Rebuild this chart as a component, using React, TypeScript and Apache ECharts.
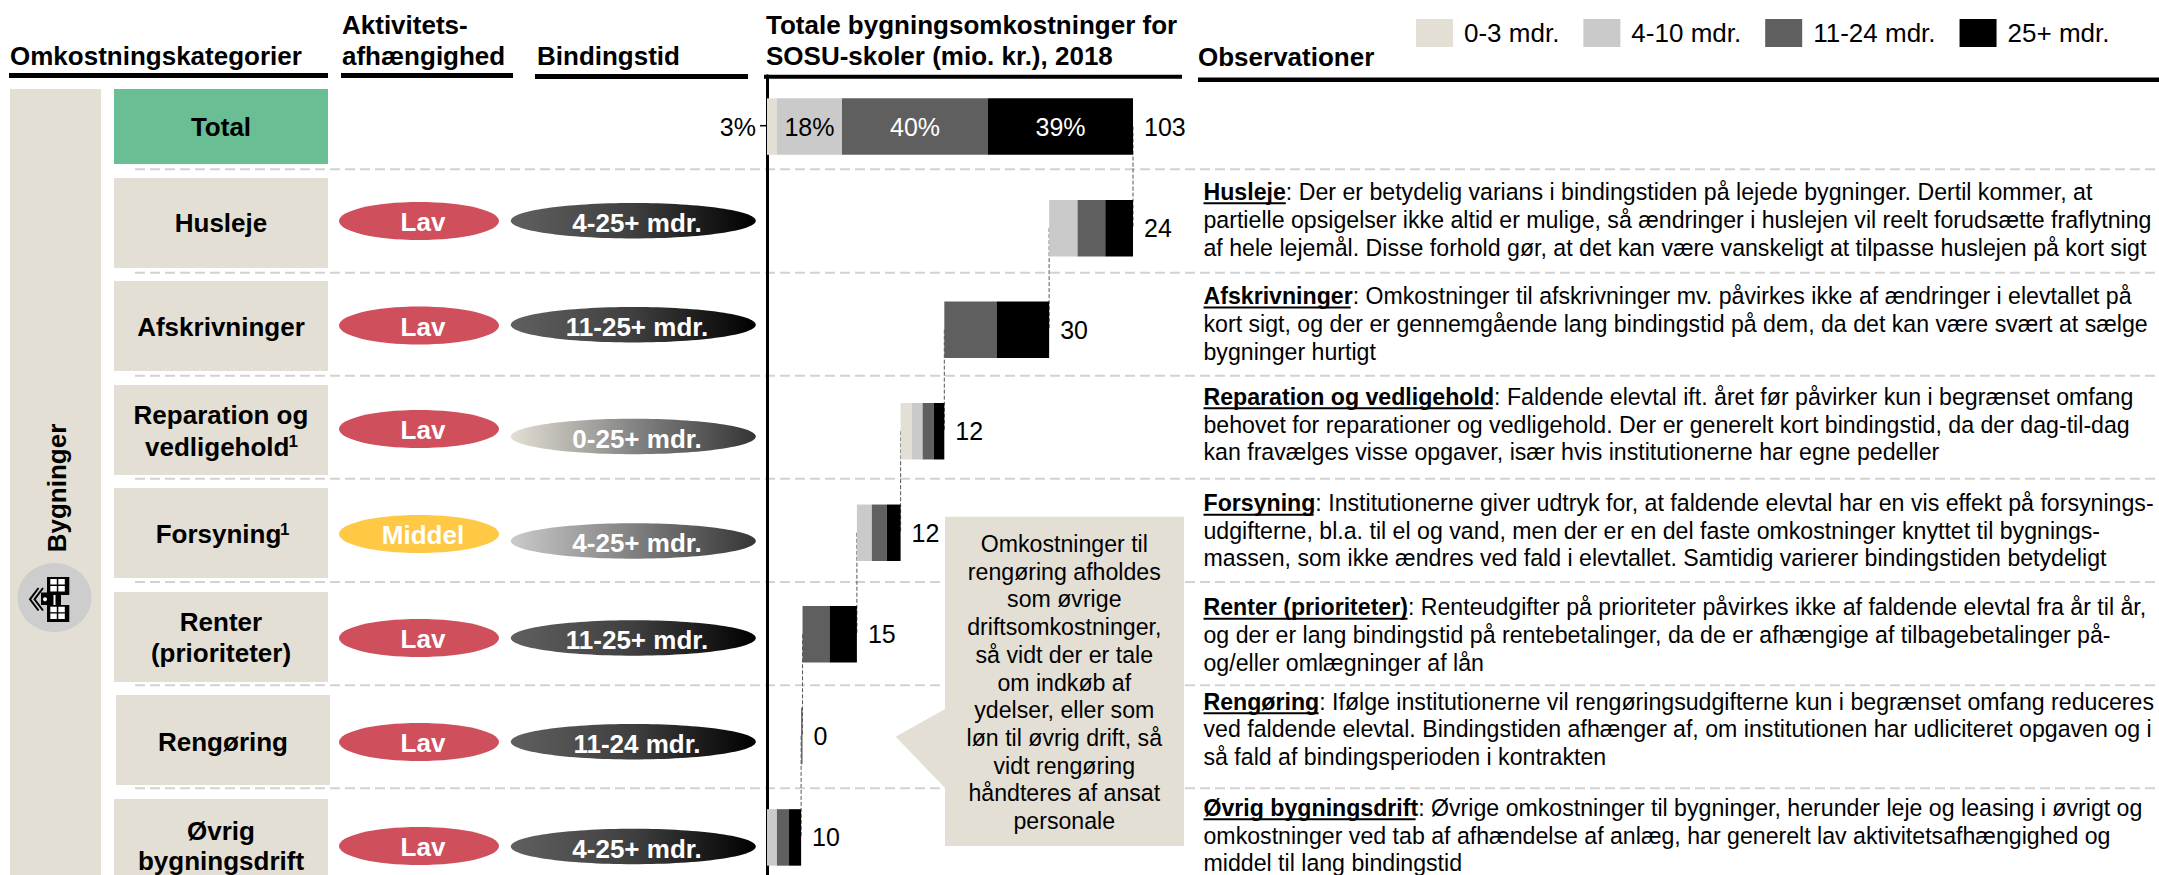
import React, { useEffect, useRef } from "react";
import * as echarts from "echarts";

const FONT = '"Liberation Sans", Arial, sans-serif';
const BEIGE = "#E3DFD4";
const LIGHT = "#CACACA";
const DARK = "#5F5F5F";
const BLACK = "#000000";
const GREEN = "#69BE94";
const RED = "#CF505C";
const YELLOW = "#FFC845";
const DASH = "#D2D2D2";

const rows = ["Total", "Husleje", "Afskrivninger", "Reparation og vedligehold", "Forsyning", "Renter (prioriteter)", "Rengøring", "Øvrig bygningsdrift"];
const seriesNames = ["0-3 mdr.", "4-10 mdr.", "11-24 mdr.", "25+ mdr."];
const v0to3 = [2.8, 0, 0, 3.1, 0, 0, 0, 0];
const v4to10 = [18.3, 8.0, 0, 3.1, 4.2, 0, 0, 2.8];
const v11to24 = [41.1, 7.8, 14.7, 3.1, 4.2, 7.6, 0.4, 3.4];
const v25plus = [40.8, 7.8, 14.8, 3.0, 3.9, 7.7, 0, 3.4];
const rowTotals = ["103", "24", "30", "12", "12", "15", "0", "10"];
const totalPct = ["3%", "18%", "40%", "39%"];

const categoryLines = [["Total"], ["Husleje"], ["Afskrivninger"], ["Reparation og", "vedligehold"], ["Forsyning"], ["Renter", "(prioriteter)"], ["Rengøring"], ["Øvrig", "bygningsdrift"]];
const categoryLineY = [[127], [223], [327], [415, 447], [534], [622, 653], [742], [831, 861]];
const categoryBoxes = [[114, 89, 214, 75], [114, 178, 214, 90], [114, 281, 214, 90], [114, 385, 214, 90], [114, 488, 214, 90], [114, 592, 214, 90], [116, 695, 214, 90], [114, 799, 214, 90]];
const footnoteMarks = [[288.5, 441], [280, 529]];
const activity = ["Lav", "Lav", "Lav", "Middel", "Lav", "Lav", "Lav"];
const activityY = [221, 325.5, 429, 534, 638, 742, 846];
const binding = ["4-25+ mdr.", "11-25+ mdr.", "0-25+ mdr.", "4-25+ mdr.", "11-25+ mdr.", "11-24 mdr.", "4-25+ mdr."];
const bindingY = [220.7, 324.7, 436.5, 541, 638, 741.7, 846.5];
const bindingStops = [
  ["#606060", "#3F3F3F", "#000000"],
  ["#606060", "#3F3F3F", "#000000"],
  ["#E3DFD4", "#848484", "#353535"],
  ["#CACACA", "#808080", "#353535"],
  ["#606060", "#3F3F3F", "#000000"],
  ["#606060", "#3F3F3F", "#000000"],
  ["#606060", "#3F3F3F", "#000000"],
];
const separators = [169.3, 272.7, 375.7, 478.7, 582, 685.3, 788.3];

const obsHeads = ["Husleje", "Afskrivninger", "Reparation og vedligehold", "Forsyning", "Renter (prioriteter)", "Rengøring", "Øvrig bygningsdrift"];
const obsFirst = [
  ": Der er betydelig varians i bindingstiden på lejede bygninger. Dertil kommer, at",
  ": Omkostninger til afskrivninger mv. påvirkes ikke af ændringer i elevtallet på",
  ": Faldende elevtal ift. året før påvirker kun i begrænset omfang",
  ": Institutionerne giver udtryk for, at faldende elevtal har en vis effekt på forsynings-",
  ": Renteudgifter på prioriteter påvirkes ikke af faldende elevtal fra år til år,",
  ": Ifølge institutionerne vil rengøringsudgifterne kun i begrænset omfang reduceres",
  ": Øvrige omkostninger til bygninger, herunder leje og leasing i øvrigt og",
];
const obsLine2 = [
  "partielle opsigelser ikke altid er mulige, så ændringer i huslejen vil reelt forudsætte fraflytning",
  "kort sigt, og der er gennemgående lang bindingstid på dem, da det kan være svært at sælge",
  "behovet for reparationer og vedligehold. Der er generelt kort bindingstid, da der dag-til-dag",
  "udgifterne, bl.a. til el og vand, men der er en del faste omkostninger knyttet til bygnings-",
  "og der er lang bindingstid på rentebetalinger, da de er afhængige af tilbagebetalinger på-",
  "ved faldende elevtal. Bindingstiden afhænger af, om institutionen har udliciteret opgaven og i",
  "omkostninger ved tab af afhændelse af anlæg, har generelt lav aktivitetsafhængighed og",
];
const obsLine3 = [
  "af hele lejemål. Disse forhold gør, at det kan være vanskeligt at tilpasse huslejen på kort sigt",
  "bygninger hurtigt",
  "kan fravælges visse opgaver, især hvis institutionerne har egne pedeller",
  "massen, som ikke ændres ved fald i elevtallet. Samtidig varierer bindingstiden betydeligt",
  "og/eller omlægninger af lån",
  "så fald af bindingsperioden i kontrakten",
  "middel til lang bindingstid",
];
const obsY = [[191.7, 220, 248], [296, 324, 351.7], [396.7, 425, 452.3], [503.3, 530.7, 557.7], [607.3, 635, 663.3], [701.7, 729.3, 757.3], [807.7, 836, 862.7]];
const obsUnderlineEnd = [1285.8, 1350.7, 1492.8, 1313.6, 1407.5, 1318.6, 1415.6];

const calloutLines = ["Omkostninger til", "rengøring afholdes", "som øvrige", "driftsomkostninger,", "så vidt der er tale", "om indkøb af", "ydelser, eller som", "løn til øvrig drift, så", "vidt rengøring", "håndteres af ansat", "personale"];

function txt(text: string, x: number, y: number, font: string, fill = "#000", align = "center", extra: any = {}) {
  return { type: "text", silent: true, ...extra, style: { text, x, y, font, fill, textAlign: align, textVerticalAlign: "middle" } };
}
function rect(x: number, y: number, width: number, height: number, fill: string) {
  return { type: "rect", silent: true, shape: { x, y, width, height }, style: { fill } };
}

function buildOption() {
  const rowSums = rows.map((_, i) => v0to3[i] + v4to10[i] + v11to24[i] + v25plus[i]);
  // offset of each floating bar: everything below it in the waterfall
  const base = rows.map((_, i) => (i === 0 ? 0 : rowSums.slice(i + 1).reduce((a, b) => a + b, 0)));
  const rightEdge = rows.map((_, i) => base[i] + rowSums[i]);

  const B26 = `bold 26px ${FONT}`;
  const R23 = `23.15px ${FONT}`;
  const gfx: any[] = [];

  separators.forEach((y) => gfx.push({ type: "line", silent: true, shape: { x1: 135, y1: y, x2: 2159, y2: y }, style: { stroke: DASH, lineWidth: 2, lineDash: [10, 5] } }));

  gfx.push(rect(10, 89, 91, 800, BEIGE));
  categoryBoxes.forEach((b, i) => gfx.push(rect(b[0], b[1], b[2], b[3], i === 0 ? GREEN : BEIGE)));
  categoryLines.forEach((ls, i) =>
    ls.forEach((l, j) => {
      if (l === "vedligehold") gfx.push(txt(l, 145, categoryLineY[i][j], B26, "#000", "left"));
      else if (l === "Forsyning") gfx.push(txt(l, 155.7, categoryLineY[i][j], B26, "#000", "left"));
      else gfx.push(txt(l, categoryBoxes[i][0] + 107, categoryLineY[i][j], B26));
    })
  );
  footnoteMarks.forEach((m) => gfx.push(txt("1", m[0], m[1], `bold 17px ${FONT}`, "#000", "left")));

  gfx.push(rect(9, 73, 319, 5, BLACK), rect(341, 73, 172, 5, BLACK), rect(535, 74, 213, 5, BLACK), rect(1198, 77.5, 961, 4.5, BLACK));
  gfx.push(rect(764, 74.8, 418, 4, BLACK));
  gfx.push(txt("Omkostningskategorier", 10, 56, B26, "#000", "left"));
  gfx.push(txt("Aktivitets-", 342, 25, B26, "#000", "left"));
  gfx.push(txt("afhængighed", 342, 56, B26, "#000", "left"));
  gfx.push(txt("Bindingstid", 537, 56, B26, "#000", "left"));
  gfx.push(txt("Observationer", 1198, 57, B26, "#000", "left"));

  gfx.push(txt("Bygninger", 57, 488, B26, "#000", "center", { rotation: Math.PI / 2, originX: 57, originY: 488 }));
  gfx.push({ type: "ellipse", silent: true, shape: { cx: 54.5, cy: 597.5, rx: 37, ry: 34.5 }, style: { fill: "#CDCDCD" } });
  gfx.push(rect(47, 577, 22.3, 18, BLACK), rect(47, 605, 22.3, 17, BLACK), rect(41, 592.5, 20, 12.5, BLACK));
  [[50.3, 579], [58.3, 579], [50.3, 586], [58.3, 586], [50.3, 606.7], [58.3, 606.7], [50.3, 613.5], [58.3, 613.5]].forEach((p) => gfx.push(rect(p[0], p[1], 6.5, 5.5, "#FFFFFF")));
  gfx.push(rect(53.5, 595, 2, 10, "#FFFFFF"), rect(61, 595, 9, 10, "#CDCDCD"), { type: "circle", silent: true, shape: { cx: 45, cy: 599.3, r: 2 }, style: { fill: "#FFFFFF" } });
  [38.5, 43].forEach((x) => gfx.push({ type: "polyline", silent: true, shape: { points: [[x, 588], [x - 8.5, 599.3], [x, 610.5]] }, style: { stroke: BLACK, lineWidth: 2, fill: "none" } }));

  activity.forEach((a, i) => {
    gfx.push({ type: "ellipse", silent: true, shape: { cx: 419, cy: activityY[i], rx: 80, ry: 19 }, style: { fill: a === "Middel" ? YELLOW : RED } });
    gfx.push(txt(a, 423, activityY[i] + 1, B26, "#FFFFFF"));
  });
  binding.forEach((b, i) => {
    const s = bindingStops[i];
    gfx.push({
      type: "ellipse", silent: true, shape: { cx: 633.3, cy: bindingY[i], rx: 122.5, ry: 17.7 },
      style: { fill: new echarts.graphic.LinearGradient(0, 0, 1, 0, [{ offset: 0, color: s[0] }, { offset: 0.5, color: s[1] }, { offset: 1, color: s[2] }]) },
    });
    gfx.push(txt(b, 637, bindingY[i] + 2, B26, "#FFFFFF"));
  });

  gfx.push({ type: "line", silent: true, shape: { x1: 760, y1: 125.7, x2: 771.5, y2: 125.7 }, style: { stroke: BLACK, lineWidth: 1.5 } });

  obsHeads.forEach((h, i) => {
    gfx.push({
      type: "text", silent: true,
      style: {
        x: 1203.5, y: obsY[i][0], textVerticalAlign: "middle", fill: "#000",
        text: `{b|${h}}{n|${obsFirst[i]}}`,
        rich: { b: { font: `bold 23.15px ${FONT}`, fill: "#000" }, n: { font: R23, fill: "#000" } },
      },
    });
    gfx.push({ type: "line", silent: true, shape: { x1: 1203.5, y1: obsY[i][0] + 11.5, x2: obsUnderlineEnd[i], y2: obsY[i][0] + 11.5 }, style: { stroke: BLACK, lineWidth: 2 } });
    gfx.push(txt(obsLine2[i], 1203.5, obsY[i][1], R23, "#000", "left"));
    gfx.push(txt(obsLine3[i], 1203.5, obsY[i][2], R23, "#000", "left"));
  });

  const callout = { type: "polygon", silent: true, shape: { points: [[945, 516.7], [1184, 516.7], [1184, 846], [945, 846], [945, 788], [895.7, 736.7], [945, 709]] }, style: { fill: BEIGE } };
  const calloutTexts = calloutLines.map((l, i) => txt(l, 1064.3, 544 + i * 27.7, R23));

  const segments = [
    { name: seriesNames[0], color: BEIGE, values: v0to3, pct: totalPct[0], labelColor: "#000", position: "left" },
    { name: seriesNames[1], color: LIGHT, values: v4to10, pct: totalPct[1], labelColor: "#000", position: "inside" },
    { name: seriesNames[2], color: DARK, values: v11to24, pct: totalPct[2], labelColor: "#FFF", position: "inside" },
    { name: seriesNames[3], color: BLACK, values: v25plus, pct: totalPct[3], labelColor: "#FFF", position: "inside" },
  ];

  const barCommon = { type: "bar", stack: "w", barWidth: 56.5, z: 3, silent: true };
  // each connector runs from the left end of a row's bar to the right end of the next row's bar
  const connectors = rows.slice(0, -1).map((_, i) => ({
    type: "line", silent: true, z: 1, symbol: "none",
    data: [[i === 0 ? rightEdge[0] : base[i], rows[i]], [rightEdge[i + 1], rows[i + 1]]],
    lineStyle: { color: "#555555", width: 1, type: [4, 2] },
  }));

  return {
    animation: false,
    textStyle: { fontFamily: FONT },
    title: {
      text: "Totale bygningsomkostninger for\nSOSU-skoler (mio. kr.), 2018", left: 766, top: 9,
      padding: 0,
      textStyle: { fontFamily: FONT, fontWeight: "bold", fontSize: 26, lineHeight: 31, color: "#000" },
    },
    legend: {
      left: 1416, top: 19, padding: 0, itemWidth: 37, itemHeight: 28, itemGap: 24, icon: "rect", selectedMode: false,
      data: seriesNames,
      textStyle: { fontFamily: FONT, fontSize: 26, color: "#000", padding: [0, 0, 0, 6] },
    },
    grid: { left: 767, top: 75.8, width: 366, height: 812.4, containLabel: false },
    xAxis: { type: "value", min: 0, max: 103, show: false },
    yAxis: {
      type: "category", inverse: true, data: rows, offset: 1.5,
      axisLine: { show: true, lineStyle: { color: BLACK, width: 3 } },
      axisTick: { show: false }, axisLabel: { show: false }, splitLine: { show: false },
    },
    graphic: { elements: [...gfx, callout, ...calloutTexts] },
    series: [
      ...connectors,
      { ...barCommon, name: "base", data: base, itemStyle: { color: "transparent" } },
      ...segments.map((s) => ({
        ...barCommon,
        name: s.name,
        itemStyle: { color: s.color },
        data: s.values.map((v, i) => i === 0
          ? { value: v, label: { show: true, position: s.position, distance: 11, formatter: s.pct, color: s.labelColor, fontFamily: FONT, fontSize: 25 } }
          : v),
      })),
      {
        ...barCommon, name: "Total", data: rows.map(() => 0), itemStyle: { color: "transparent" },
        label: { show: true, position: "right", distance: 11, color: "#000", fontFamily: FONT, fontSize: 25, formatter: (p: any) => rowTotals[p.dataIndex] },
      },
    ],
  };
}

export default function App() {
  const ref = useRef<HTMLDivElement>(null);
  useEffect(() => {
    document.body.style.margin = "0";
    document.body.style.overflow = "hidden";
    const chart = echarts.init(ref.current!, undefined, { renderer: "svg" });
    chart.setOption(buildOption() as any);
    return () => chart.dispose();
  }, []);
  return (
    <div style={{ position: "absolute", left: 0, top: 0, width: 2159, height: 875, overflow: "hidden", background: "#fff" }}>
      <div ref={ref} style={{ width: 2159, height: 900 }} />
    </div>
  );
}
